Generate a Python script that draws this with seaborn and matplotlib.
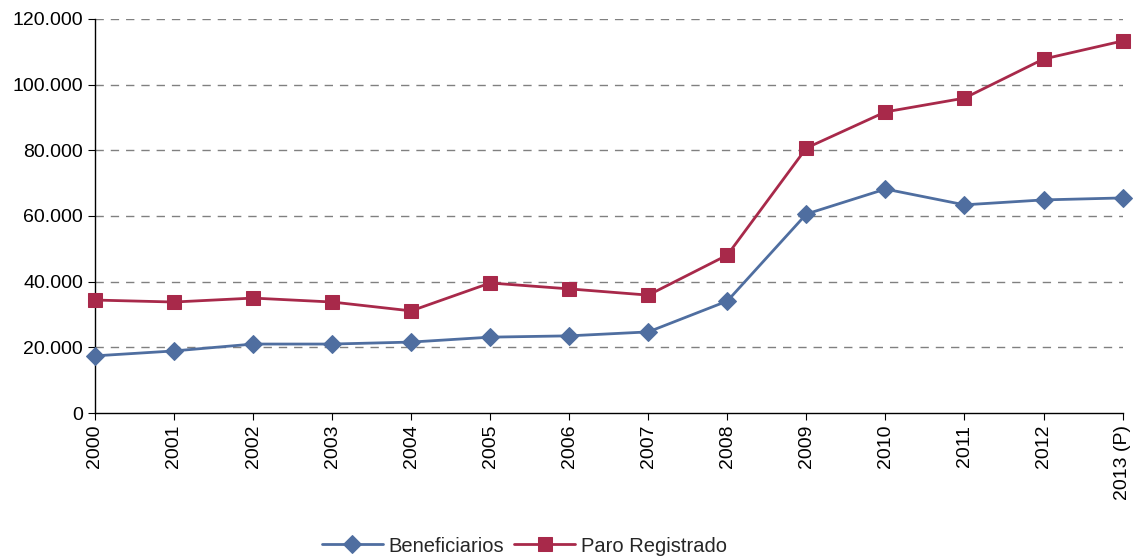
import matplotlib
matplotlib.use("Agg")
import matplotlib.pyplot as plt
import matplotlib.ticker as mticker
import seaborn as sns
import numpy as np

years = ["2000", "2001", "2002", "2003", "2004", "2005", "2006",
         "2007", "2008", "2009", "2010", "2011", "2012", "2013 (P)"]
beneficiarios = [17400, 18900, 21000, 21000, 21600, 23100, 23500,
                 24700, 34100, 60600, 68200, 63400, 64900, 65500]
paro = [34400, 33800, 35000, 33800, 31100, 39600, 37800,
        35900, 48100, 80700, 91700, 95900, 107800, 113300]

sns.set_style("white")
plt.rcParams['font.family'] = ['Liberation Sans', 'DejaVu Sans']

fig = plt.figure(figsize=(11.33, 5.6), dpi=100)
ax = fig.add_axes([0.0838, 0.2625, 0.907, 0.7036])

x = np.arange(len(years))
sns.lineplot(x=x, y=beneficiarios, ax=ax, color="#4F6EA0", marker="D",
             markersize=9, markeredgecolor="#4F6EA0", linewidth=2,
             label="Beneficiarios", clip_on=False, zorder=3)
sns.lineplot(x=x, y=paro, ax=ax, color="#A8294A", marker="s",
             markersize=10, markeredgecolor="#A8294A", linewidth=2,
             label="Paro Registrado", clip_on=False, zorder=3)

ax.set_xlim(0, len(years) - 1)
ax.set_ylim(0, 120000)
ax.set_yticks(range(0, 120001, 20000))
ax.yaxis.set_major_formatter(mticker.FuncFormatter(
    lambda v, p: "{:,.0f}".format(v).replace(",", ".")))
ax.set_xticks(x)
ax.set_xticklabels(years, rotation=90)
ax.tick_params(axis="both", labelsize=14, length=5, color="black",
               labelcolor="black", direction="out", bottom=True, left=True)

for v in range(20000, 120001, 20000):
    ax.axhline(v, color="#808080", linestyle=(0, (6, 5)), linewidth=1, zorder=1)

for s in ["top", "right"]:
    ax.spines[s].set_visible(False)
for s in ["left", "bottom"]:
    ax.spines[s].set_color("black")
    ax.spines[s].set_linewidth(1)

handles, labels = ax.get_legend_handles_labels()
ax.get_legend().remove()
fig.legend(handles, labels, loc="center", bbox_to_anchor=(0.463, 0.025),
           ncol=2, frameon=False, fontsize=14.5, handlelength=3,
           columnspacing=0.5, handletextpad=0.3)

fig.savefig("out.png", dpi=100)
